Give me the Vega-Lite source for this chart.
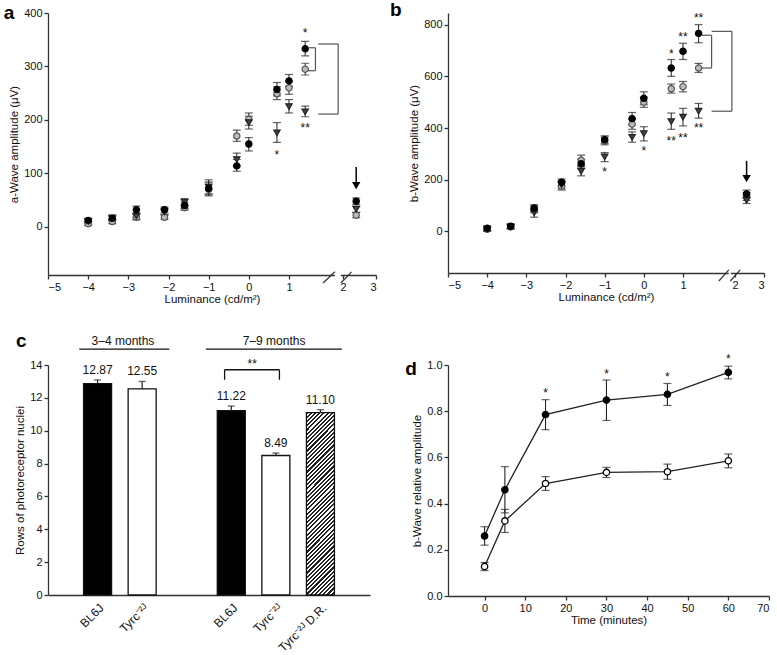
{
"$schema":"https://vega.github.io/schema/vega-lite/v6.json",
"padding":{"left":3,"top":0,"right":0,"bottom":0},
"config":{"font":"Liberation Sans","view":{"stroke":null},"axis":{"grid":false,"labelOverlap":false,"domainColor":"#333","tickColor":"#333","labelColor":"#111","titleColor":"#111","labelFontSize":11,"titleFontSize":11.5,"titleFontWeight":"normal","tickSize":4,"labelPadding":2,"domainWidth":1.3,"tickWidth":1.3,"titlePadding":4},"text":{"color":"#111"}},
"resolve":{"scale":{"fill":"independent","stroke":"independent","shape":"independent"}},
"datasets":{
"pa":[
{"lum":-4,"amp":6,"lo":2,"hi":10,"s":"O"},{"lum":-4,"amp":10,"lo":6,"hi":14,"s":"T"},{"lum":-4,"amp":12,"lo":8,"hi":16,"s":"F"},
{"lum":-3.4,"amp":10,"lo":6,"hi":14,"s":"O"},{"lum":-3.4,"amp":17,"lo":13,"hi":21,"s":"T"},{"lum":-3.4,"amp":16,"lo":12,"hi":20,"s":"F"},
{"lum":-2.8,"amp":18,"lo":13,"hi":23,"s":"O"},{"lum":-2.8,"amp":20,"lo":15,"hi":25,"s":"T"},{"lum":-2.8,"amp":32,"lo":25,"hi":39,"s":"F"},
{"lum":-2.1,"amp":18,"lo":14,"hi":22,"s":"O"},{"lum":-2.1,"amp":28,"lo":23,"hi":33,"s":"T"},{"lum":-2.1,"amp":32,"lo":26,"hi":37,"s":"F"},
{"lum":-1.6,"amp":36,"lo":31,"hi":41,"s":"O"},{"lum":-1.6,"amp":46,"lo":40,"hi":53,"s":"T"},{"lum":-1.6,"amp":40,"lo":34,"hi":46,"s":"F"},
{"lum":-1,"amp":70,"lo":58,"hi":82,"s":"O"},{"lum":-1,"amp":74,"lo":62,"hi":88,"s":"T"},{"lum":-1,"amp":72,"lo":60,"hi":84,"s":"F"},
{"lum":-0.3,"amp":170,"lo":160,"hi":181,"s":"O"},{"lum":-0.3,"amp":126,"lo":114,"hi":138,"s":"T"},{"lum":-0.3,"amp":114,"lo":104,"hi":126,"s":"F"},
{"lum":0,"amp":201,"lo":190,"hi":213,"s":"O"},{"lum":0,"amp":195,"lo":183,"hi":207,"s":"T"},{"lum":0,"amp":155,"lo":142,"hi":167,"s":"F"},
{"lum":0.7,"amp":249,"lo":238,"hi":262,"s":"O"},{"lum":0.7,"amp":176,"lo":158,"hi":195,"s":"T"},{"lum":0.7,"amp":257,"lo":245,"hi":270,"s":"F"},
{"lum":1,"amp":260,"lo":248,"hi":272,"s":"O"},{"lum":1,"amp":225,"lo":213,"hi":238,"s":"T"},{"lum":1,"amp":273,"lo":263,"hi":285,"s":"F"},
{"lum":1.3,"amp":295,"lo":284,"hi":306,"s":"O"},{"lum":1.3,"amp":215,"lo":206,"hi":226,"s":"T"},{"lum":1.3,"amp":333,"lo":320,"hi":347,"s":"F"},
{"lum":2.4,"amp":22,"lo":17,"hi":27,"s":"O"},{"lum":2.4,"amp":33,"lo":27,"hi":39,"s":"T"},{"lum":2.4,"amp":48,"lo":42,"hi":54,"s":"F"}
],
"pb":[
{"lum":-4,"amp":8,"lo":0,"hi":16,"s":"O"},{"lum":-4,"amp":10,"lo":2,"hi":18,"s":"T"},{"lum":-4,"amp":12,"lo":4,"hi":20,"s":"F"},
{"lum":-3.4,"amp":18,"lo":10,"hi":26,"s":"O"},{"lum":-3.4,"amp":18,"lo":10,"hi":26,"s":"T"},{"lum":-3.4,"amp":20,"lo":12,"hi":28,"s":"F"},
{"lum":-2.8,"amp":85,"lo":72,"hi":98,"s":"O"},{"lum":-2.8,"amp":72,"lo":55,"hi":90,"s":"T"},{"lum":-2.8,"amp":90,"lo":77,"hi":103,"s":"F"},
{"lum":-2.1,"amp":175,"lo":160,"hi":190,"s":"O"},{"lum":-2.1,"amp":180,"lo":165,"hi":195,"s":"T"},{"lum":-2.1,"amp":190,"lo":177,"hi":203,"s":"F"},
{"lum":-1.6,"amp":275,"lo":255,"hi":295,"s":"O"},{"lum":-1.6,"amp":232,"lo":215,"hi":250,"s":"T"},{"lum":-1.6,"amp":262,"lo":245,"hi":280,"s":"F"},
{"lum":-1,"amp":350,"lo":335,"hi":365,"s":"O"},{"lum":-1,"amp":288,"lo":270,"hi":305,"s":"T"},{"lum":-1,"amp":355,"lo":340,"hi":370,"s":"F"},
{"lum":-0.3,"amp":415,"lo":395,"hi":435,"s":"O"},{"lum":-0.3,"amp":364,"lo":345,"hi":385,"s":"T"},{"lum":-0.3,"amp":436,"lo":412,"hi":460,"s":"F"},
{"lum":0,"amp":500,"lo":480,"hi":520,"s":"O"},{"lum":0,"amp":378,"lo":350,"hi":405,"s":"T"},{"lum":0,"amp":515,"lo":490,"hi":540,"s":"F"},
{"lum":0.7,"amp":552,"lo":535,"hi":570,"s":"O"},{"lum":0.7,"amp":425,"lo":395,"hi":458,"s":"T"},{"lum":0.7,"amp":632,"lo":600,"hi":665,"s":"F"},
{"lum":1,"amp":560,"lo":540,"hi":580,"s":"O"},{"lum":1,"amp":442,"lo":408,"hi":476,"s":"T"},{"lum":1,"amp":697,"lo":665,"hi":728,"s":"F"},
{"lum":1.3,"amp":632,"lo":615,"hi":650,"s":"O"},{"lum":1.3,"amp":465,"lo":438,"hi":495,"s":"T"},{"lum":1.3,"amp":766,"lo":730,"hi":800,"s":"F"},
{"lum":2.4,"amp":135,"lo":120,"hi":150,"s":"O"},{"lum":2.4,"amp":120,"lo":108,"hi":132,"s":"T"},{"lum":2.4,"amp":145,"lo":130,"hi":160,"s":"F"}
],
"sa":[{"lum":0.7,"amp":140,"lab":"*"},{"lum":1.3,"amp":369,"lab":"*"},{"lum":1.3,"amp":190,"lab":"**"}],
"sb":[{"lum":-1,"amp":243,"lab":"*"},{"lum":0,"amp":323,"lab":"*"},{"lum":0.7,"amp":697,"lab":"*"},{"lum":0.7,"amp":361,"lab":"**"},{"lum":1,"amp":374,"lab":"**"},{"lum":1,"amp":764,"lab":"**"},{"lum":1.3,"amp":836,"lab":"**"},{"lum":1.3,"amp":413,"lab":"**"}],
"bra":[{"lum":1.35,"lum2":1.49,"amp":335,"amp2":335},{"lum":1.49,"lum2":1.49,"amp":335,"amp2":292},{"lum":1.35,"lum2":1.49,"amp":292,"amp2":292},{"lum":1.54,"lum2":1.91,"amp":342,"amp2":342},{"lum":1.91,"lum2":1.91,"amp":342,"amp2":211},{"lum":1.54,"lum2":1.91,"amp":211,"amp2":211}],
"brb":[{"lum":1.36,"lum2":1.55,"amp":759,"amp2":759},{"lum":1.55,"lum2":1.55,"amp":759,"amp2":632},{"lum":1.36,"lum2":1.55,"amp":632,"amp2":632},{"lum":1.55,"lum2":1.94,"amp":774,"amp2":774},{"lum":1.94,"lum2":1.94,"amp":774,"amp2":465},{"lum":1.55,"lum2":1.94,"amp":465,"amp2":465}],
"ara":[{"lum":2.4,"amp":112,"amp2":82,"hy":77}],
"arb":[{"lum":2.4,"amp":273,"amp2":215,"hy":204}],
"gapa":[{"lum":1.85,"lum2":1.96,"amp":-90}],
"sla":[{"lum":1.63,"lum2":1.85,"amp":-105,"amp2":-84},{"lum":1.96,"lum2":2.26,"amp":-105,"amp2":-84}],
"gapb":[{"lum":1.88,"lum2":1.92,"amp":-161}],
"slb":[{"lum":1.69,"lum2":1.88,"amp":-192,"amp2":-149},{"lum":1.91,"lum2":2.18,"amp":-192,"amp2":-149}],
"pc":[{"pos":1,"n":12.87,"hi":13.09,"g":"B","lab":"12.87"},{"pos":2,"n":12.55,"hi":13.0,"g":"T","lab":"12.55"},{"pos":4,"n":11.22,"hi":11.5,"g":"B","lab":"11.22"},{"pos":5,"n":8.49,"hi":8.64,"g":"T","lab":"8.49"},{"pos":6,"n":11.10,"hi":11.28,"g":"D","lab":"11.10"}],
"hc":[{"pos":0.59,"pos2":2.61,"n":14.97},{"pos":3.43,"pos2":6.48,"n":14.97}],
"hct":[{"pos":1.57,"n":15.48,"lab":"3–4 months"},{"pos":4.96,"n":15.48,"lab":"7–9 months"}],
"brc":[{"pos":3.85,"pos2":3.85,"n":13.1,"n2":13.71},{"pos":3.85,"pos2":5.08,"n":13.71,"n2":13.71},{"pos":5.08,"pos2":5.08,"n":13.71,"n2":13.1}],
"pd":[
{"time":0,"v":0.26,"lo":0.22,"hi":0.30,"s":"F"},{"time":5,"v":0.46,"lo":0.36,"hi":0.56,"s":"F"},{"time":15,"v":0.785,"lo":0.72,"hi":0.85,"s":"F"},{"time":30,"v":0.848,"lo":0.76,"hi":0.935,"s":"F"},{"time":45,"v":0.873,"lo":0.825,"hi":0.92,"s":"F"},{"time":60,"v":0.968,"lo":0.94,"hi":0.995,"s":"F"},
{"time":0,"v":0.128,"lo":0.11,"hi":0.145,"s":"O"},{"time":5,"v":0.325,"lo":0.275,"hi":0.375,"s":"O"},{"time":15,"v":0.487,"lo":0.457,"hi":0.517,"s":"O"},{"time":30,"v":0.535,"lo":0.513,"hi":0.557,"s":"O"},{"time":45,"v":0.538,"lo":0.505,"hi":0.571,"s":"O"},{"time":60,"v":0.585,"lo":0.555,"hi":0.615,"s":"O"}
],
"sd":[{"time":15,"v":0.892,"lab":"*"},{"time":30,"v":0.974,"lab":"*"},{"time":45,"v":0.961,"lab":"*"},{"time":60,"v":1.039,"lab":"*"}]
},
"columns":2,
"align":"each",
"spacing":{"row":27,"column":13},
"concat":[
{"width":328,"height":262,"layer":[
 {"data":{"name":"gapa"},"mark":{"type":"rule","color":"white","strokeWidth":4},"encoding":{"x":{"field":"lum","type":"quantitative","scale":{"domain":[-5,1,2,3],"range":[0,241,295,328],"nice":false,"zero":false},"axis":{"values":[-5,-4,-3,-2,-1,0,1,2,3],"tickCount":30,"format":"d","titlePadding":1,"labelOverlap":false},"title":"Luminance (cd/m²)"},"x2":{"field":"lum2"},"y":{"field":"amp","type":"quantitative","scale":{"domain":[-90,400],"nice":false,"zero":false},"axis":{"values":[0,100,200,300,400],"tickCount":30,"format":"d","labelOverlap":false},"title":"a-Wave amplitude (μV)"}}},
 {"data":{"name":"sla"},"mark":{"type":"rule","color":"#333","strokeWidth":1.2},"encoding":{"x":{"field":"lum","type":"quantitative","title":"Luminance (cd/m²)"},"x2":{"field":"lum2"},"y":{"field":"amp","type":"quantitative","title":"a-Wave amplitude (μV)"},"y2":{"field":"amp2"}}},
 {"data":{"name":"pa"},"mark":{"type":"rule","color":"#222","strokeWidth":1},"encoding":{"x":{"field":"lum","type":"quantitative","title":"Luminance (cd/m²)"},"y":{"field":"lo","type":"quantitative","title":"a-Wave amplitude (μV)"},"y2":{"field":"hi"}}},
 {"data":{"name":"pa"},"mark":{"type":"tick","orient":"horizontal","color":"#222","size":8,"thickness":1.2},"encoding":{"x":{"field":"lum","type":"quantitative","title":"Luminance (cd/m²)"},"y":{"field":"lo","type":"quantitative","title":"a-Wave amplitude (μV)"}}},
 {"data":{"name":"pa"},"mark":{"type":"tick","orient":"horizontal","color":"#222","size":8,"thickness":1.2},"encoding":{"x":{"field":"lum","type":"quantitative","title":"Luminance (cd/m²)"},"y":{"field":"hi","type":"quantitative","title":"a-Wave amplitude (μV)"}}},
 {"data":{"name":"pa"},"mark":{"type":"point","filled":true,"size":40,"strokeWidth":1.2,"opacity":1},"encoding":{"x":{"field":"lum","type":"quantitative","title":"Luminance (cd/m²)"},"y":{"field":"amp","type":"quantitative","title":"a-Wave amplitude (μV)"},"shape":{"field":"s","type":"nominal","scale":{"domain":["F","O","T"],"range":["circle","circle","triangle-down"]},"legend":null},"fill":{"field":"s","type":"nominal","scale":{"domain":["F","O","T"],"range":["#000","#bbb","#444"]},"legend":null},"stroke":{"field":"s","type":"nominal","scale":{"domain":["F","O","T"],"range":["#000","#555","#222"]},"legend":null}}},
 {"data":{"name":"sa"},"mark":{"type":"text","fontSize":12,"baseline":"middle","dy":3},"encoding":{"x":{"field":"lum","type":"quantitative","title":"Luminance (cd/m²)"},"y":{"field":"amp","type":"quantitative","title":"a-Wave amplitude (μV)"},"text":{"field":"lab"}}},
 {"data":{"name":"bra"},"mark":{"type":"rule","color":"#555","strokeWidth":1.2},"encoding":{"x":{"field":"lum","type":"quantitative","title":"Luminance (cd/m²)"},"x2":{"field":"lum2"},"y":{"field":"amp","type":"quantitative","title":"a-Wave amplitude (μV)"},"y2":{"field":"amp2"}}},
 {"data":{"name":"ara"},"mark":{"type":"rule","color":"#000","strokeWidth":1.5},"encoding":{"x":{"field":"lum","type":"quantitative","title":"Luminance (cd/m²)"},"y":{"field":"amp","type":"quantitative","title":"a-Wave amplitude (μV)"},"y2":{"field":"amp2"}}},
 {"data":{"name":"ara"},"mark":{"type":"point","shape":"triangle-down","filled":true,"color":"#000","size":70,"opacity":1},"encoding":{"x":{"field":"lum","type":"quantitative","title":"Luminance (cd/m²)"},"y":{"field":"hy","type":"quantitative","title":"a-Wave amplitude (μV)"}}},
 {"data":{"values":[{"lum":-6.1,"amp":400,"lab":"a"}]},"mark":{"type":"text","fontSize":19,"fontWeight":"bold","align":"left","baseline":"middle","color":"#000"},"encoding":{"x":{"field":"lum","type":"quantitative","title":"Luminance (cd/m²)"},"y":{"field":"amp","type":"quantitative","title":"a-Wave amplitude (μV)"},"text":{"field":"lab"}}}
]},
{"width":316,"height":260,"layer":[
 {"data":{"name":"gapb"},"mark":{"type":"rule","color":"white","strokeWidth":4},"encoding":{"x":{"field":"lum","type":"quantitative","scale":{"domain":[-5,1,2,3],"range":[0,235,287,316],"nice":false,"zero":false},"axis":{"values":[-5,-4,-3,-2,-1,0,1,2,3],"tickCount":30,"format":"d","titlePadding":1,"labelOverlap":false},"title":"Luminance (cd/m²)"},"x2":{"field":"lum2"},"y":{"field":"amp","type":"quantitative","scale":{"domain":[-161,845],"nice":false,"zero":false},"axis":{"values":[0,200,400,600,800],"tickCount":30,"format":"d","labelOverlap":false},"title":"b-Wave amplitude (μV)"}}},
 {"data":{"name":"slb"},"mark":{"type":"rule","color":"#333","strokeWidth":1.2},"encoding":{"x":{"field":"lum","type":"quantitative","title":"Luminance (cd/m²)"},"x2":{"field":"lum2"},"y":{"field":"amp","type":"quantitative","title":"b-Wave amplitude (μV)"},"y2":{"field":"amp2"}}},
 {"data":{"name":"pb"},"mark":{"type":"rule","color":"#222","strokeWidth":1},"encoding":{"x":{"field":"lum","type":"quantitative","title":"Luminance (cd/m²)"},"y":{"field":"lo","type":"quantitative","title":"b-Wave amplitude (μV)"},"y2":{"field":"hi"}}},
 {"data":{"name":"pb"},"mark":{"type":"tick","orient":"horizontal","color":"#222","size":8,"thickness":1.2},"encoding":{"x":{"field":"lum","type":"quantitative","title":"Luminance (cd/m²)"},"y":{"field":"lo","type":"quantitative","title":"b-Wave amplitude (μV)"}}},
 {"data":{"name":"pb"},"mark":{"type":"tick","orient":"horizontal","color":"#222","size":8,"thickness":1.2},"encoding":{"x":{"field":"lum","type":"quantitative","title":"Luminance (cd/m²)"},"y":{"field":"hi","type":"quantitative","title":"b-Wave amplitude (μV)"}}},
 {"data":{"name":"pb"},"mark":{"type":"point","filled":true,"size":40,"strokeWidth":1.2,"opacity":1},"encoding":{"x":{"field":"lum","type":"quantitative","title":"Luminance (cd/m²)"},"y":{"field":"amp","type":"quantitative","title":"b-Wave amplitude (μV)"},"shape":{"field":"s","type":"nominal","scale":{"domain":["F","O","T"],"range":["circle","circle","triangle-down"]},"legend":null},"fill":{"field":"s","type":"nominal","scale":{"domain":["F","O","T"],"range":["#000","#bbb","#444"]},"legend":null},"stroke":{"field":"s","type":"nominal","scale":{"domain":["F","O","T"],"range":["#000","#555","#222"]},"legend":null}}},
 {"data":{"name":"sb"},"mark":{"type":"text","fontSize":12,"baseline":"middle","dy":3},"encoding":{"x":{"field":"lum","type":"quantitative","title":"Luminance (cd/m²)"},"y":{"field":"amp","type":"quantitative","title":"b-Wave amplitude (μV)"},"text":{"field":"lab"}}},
 {"data":{"name":"brb"},"mark":{"type":"rule","color":"#555","strokeWidth":1.2},"encoding":{"x":{"field":"lum","type":"quantitative","title":"Luminance (cd/m²)"},"x2":{"field":"lum2"},"y":{"field":"amp","type":"quantitative","title":"b-Wave amplitude (μV)"},"y2":{"field":"amp2"}}},
 {"data":{"name":"arb"},"mark":{"type":"rule","color":"#000","strokeWidth":1.5},"encoding":{"x":{"field":"lum","type":"quantitative","title":"Luminance (cd/m²)"},"y":{"field":"amp","type":"quantitative","title":"b-Wave amplitude (μV)"},"y2":{"field":"amp2"}}},
 {"data":{"name":"arb"},"mark":{"type":"point","shape":"triangle-down","filled":true,"color":"#000","size":70,"opacity":1},"encoding":{"x":{"field":"lum","type":"quantitative","title":"Luminance (cd/m²)"},"y":{"field":"hy","type":"quantitative","title":"b-Wave amplitude (μV)"}}},
 {"data":{"values":[{"lum":-6.48,"amp":857,"lab":"b"}]},"mark":{"type":"text","fontSize":19,"fontWeight":"bold","align":"left","baseline":"middle","color":"#000"},"encoding":{"x":{"field":"lum","type":"quantitative","title":"Luminance (cd/m²)"},"y":{"field":"amp","type":"quantitative","title":"b-Wave amplitude (μV)"},"text":{"field":"lab"}}}
]},
{"width":322,"height":230,"layer":[
 {"data":{"name":"pc"},"transform":[{"filter":"datum.g != 'D'"}],"mark":{"type":"bar","orient":"vertical","size":28,"stroke":"#111","strokeWidth":1.3},"encoding":{"x":{"field":"pos","type":"quantitative","scale":{"domain":[0,7],"nice":false,"zero":false},"axis":{"values":[1,2,4,5,6],"tickCount":30,"ticks":false,"labelAngle":-45,"labelPadding":7,"labelFontSize":12,"labelOverlap":false,"labelExpr":"datum.value == 1 || datum.value == 4 ? 'BL6J' : (datum.value == 6 ? 'Tyrc⁻²ᴶ D.R.' : 'Tyrc⁻²ᴶ')"},"title":null},"y":{"field":"n","type":"quantitative","scale":{"domain":[0,14],"nice":false},"axis":{"values":[0,2,4,6,8,10,12,14],"tickCount":30,"format":"d","labelOverlap":false},"title":"Rows of photoreceptor nuclei"},"fill":{"field":"g","type":"nominal","scale":{"domain":["B","T"],"range":["#000","#fff"]},"legend":null}}},
 {"data":{"name":"pc"},"transform":[{"filter":"datum.g == 'D'"}],"mark":{"type":"bar","orient":"vertical","size":28,"stroke":"#111","strokeWidth":1.3,"fill":{"gradient":"linear","x1":0,"y1":0,"x2":0.1734,"y2":1.127,"stops":[
{"offset":0,"color":"#222"},{"offset":0.01,"color":"#222"},{"offset":0.01,"color":"#fff"},{"offset":0.02,"color":"#fff"},
{"offset":0.02,"color":"#222"},{"offset":0.03,"color":"#222"},{"offset":0.03,"color":"#fff"},{"offset":0.04,"color":"#fff"},
{"offset":0.04,"color":"#222"},{"offset":0.05,"color":"#222"},{"offset":0.05,"color":"#fff"},{"offset":0.06,"color":"#fff"},
{"offset":0.06,"color":"#222"},{"offset":0.07,"color":"#222"},{"offset":0.07,"color":"#fff"},{"offset":0.08,"color":"#fff"},
{"offset":0.08,"color":"#222"},{"offset":0.09,"color":"#222"},{"offset":0.09,"color":"#fff"},{"offset":0.10,"color":"#fff"},
{"offset":0.10,"color":"#222"},{"offset":0.11,"color":"#222"},{"offset":0.11,"color":"#fff"},{"offset":0.12,"color":"#fff"},
{"offset":0.12,"color":"#222"},{"offset":0.13,"color":"#222"},{"offset":0.13,"color":"#fff"},{"offset":0.14,"color":"#fff"},
{"offset":0.14,"color":"#222"},{"offset":0.15,"color":"#222"},{"offset":0.15,"color":"#fff"},{"offset":0.16,"color":"#fff"},
{"offset":0.16,"color":"#222"},{"offset":0.17,"color":"#222"},{"offset":0.17,"color":"#fff"},{"offset":0.18,"color":"#fff"},
{"offset":0.18,"color":"#222"},{"offset":0.19,"color":"#222"},{"offset":0.19,"color":"#fff"},{"offset":0.20,"color":"#fff"},
{"offset":0.20,"color":"#222"},{"offset":0.21,"color":"#222"},{"offset":0.21,"color":"#fff"},{"offset":0.22,"color":"#fff"},
{"offset":0.22,"color":"#222"},{"offset":0.23,"color":"#222"},{"offset":0.23,"color":"#fff"},{"offset":0.24,"color":"#fff"},
{"offset":0.24,"color":"#222"},{"offset":0.25,"color":"#222"},{"offset":0.25,"color":"#fff"},{"offset":0.26,"color":"#fff"},
{"offset":0.26,"color":"#222"},{"offset":0.27,"color":"#222"},{"offset":0.27,"color":"#fff"},{"offset":0.28,"color":"#fff"},
{"offset":0.28,"color":"#222"},{"offset":0.29,"color":"#222"},{"offset":0.29,"color":"#fff"},{"offset":0.30,"color":"#fff"},
{"offset":0.30,"color":"#222"},{"offset":0.31,"color":"#222"},{"offset":0.31,"color":"#fff"},{"offset":0.32,"color":"#fff"},
{"offset":0.32,"color":"#222"},{"offset":0.33,"color":"#222"},{"offset":0.33,"color":"#fff"},{"offset":0.34,"color":"#fff"},
{"offset":0.34,"color":"#222"},{"offset":0.35,"color":"#222"},{"offset":0.35,"color":"#fff"},{"offset":0.36,"color":"#fff"},
{"offset":0.36,"color":"#222"},{"offset":0.37,"color":"#222"},{"offset":0.37,"color":"#fff"},{"offset":0.38,"color":"#fff"},
{"offset":0.38,"color":"#222"},{"offset":0.39,"color":"#222"},{"offset":0.39,"color":"#fff"},{"offset":0.40,"color":"#fff"},
{"offset":0.40,"color":"#222"},{"offset":0.41,"color":"#222"},{"offset":0.41,"color":"#fff"},{"offset":0.42,"color":"#fff"},
{"offset":0.42,"color":"#222"},{"offset":0.43,"color":"#222"},{"offset":0.43,"color":"#fff"},{"offset":0.44,"color":"#fff"},
{"offset":0.44,"color":"#222"},{"offset":0.45,"color":"#222"},{"offset":0.45,"color":"#fff"},{"offset":0.46,"color":"#fff"},
{"offset":0.46,"color":"#222"},{"offset":0.47,"color":"#222"},{"offset":0.47,"color":"#fff"},{"offset":0.48,"color":"#fff"},
{"offset":0.48,"color":"#222"},{"offset":0.49,"color":"#222"},{"offset":0.49,"color":"#fff"},{"offset":0.50,"color":"#fff"},
{"offset":0.50,"color":"#222"},{"offset":0.51,"color":"#222"},{"offset":0.51,"color":"#fff"},{"offset":0.52,"color":"#fff"},
{"offset":0.52,"color":"#222"},{"offset":0.53,"color":"#222"},{"offset":0.53,"color":"#fff"},{"offset":0.54,"color":"#fff"},
{"offset":0.54,"color":"#222"},{"offset":0.55,"color":"#222"},{"offset":0.55,"color":"#fff"},{"offset":0.56,"color":"#fff"},
{"offset":0.56,"color":"#222"},{"offset":0.57,"color":"#222"},{"offset":0.57,"color":"#fff"},{"offset":0.58,"color":"#fff"},
{"offset":0.58,"color":"#222"},{"offset":0.59,"color":"#222"},{"offset":0.59,"color":"#fff"},{"offset":0.60,"color":"#fff"},
{"offset":0.60,"color":"#222"},{"offset":0.61,"color":"#222"},{"offset":0.61,"color":"#fff"},{"offset":0.62,"color":"#fff"},
{"offset":0.62,"color":"#222"},{"offset":0.63,"color":"#222"},{"offset":0.63,"color":"#fff"},{"offset":0.64,"color":"#fff"},
{"offset":0.64,"color":"#222"},{"offset":0.65,"color":"#222"},{"offset":0.65,"color":"#fff"},{"offset":0.66,"color":"#fff"},
{"offset":0.66,"color":"#222"},{"offset":0.67,"color":"#222"},{"offset":0.67,"color":"#fff"},{"offset":0.68,"color":"#fff"},
{"offset":0.68,"color":"#222"},{"offset":0.69,"color":"#222"},{"offset":0.69,"color":"#fff"},{"offset":0.70,"color":"#fff"},
{"offset":0.70,"color":"#222"},{"offset":0.71,"color":"#222"},{"offset":0.71,"color":"#fff"},{"offset":0.72,"color":"#fff"},
{"offset":0.72,"color":"#222"},{"offset":0.73,"color":"#222"},{"offset":0.73,"color":"#fff"},{"offset":0.74,"color":"#fff"},
{"offset":0.74,"color":"#222"},{"offset":0.75,"color":"#222"},{"offset":0.75,"color":"#fff"},{"offset":0.76,"color":"#fff"},
{"offset":0.76,"color":"#222"},{"offset":0.77,"color":"#222"},{"offset":0.77,"color":"#fff"},{"offset":0.78,"color":"#fff"},
{"offset":0.78,"color":"#222"},{"offset":0.79,"color":"#222"},{"offset":0.79,"color":"#fff"},{"offset":0.80,"color":"#fff"},
{"offset":0.80,"color":"#222"},{"offset":0.81,"color":"#222"},{"offset":0.81,"color":"#fff"},{"offset":0.82,"color":"#fff"},
{"offset":0.82,"color":"#222"},{"offset":0.83,"color":"#222"},{"offset":0.83,"color":"#fff"},{"offset":0.84,"color":"#fff"},
{"offset":0.84,"color":"#222"},{"offset":0.85,"color":"#222"},{"offset":0.85,"color":"#fff"},{"offset":0.86,"color":"#fff"},
{"offset":0.86,"color":"#222"},{"offset":0.87,"color":"#222"},{"offset":0.87,"color":"#fff"},{"offset":0.88,"color":"#fff"},
{"offset":0.88,"color":"#222"},{"offset":0.89,"color":"#222"},{"offset":0.89,"color":"#fff"},{"offset":0.90,"color":"#fff"},
{"offset":0.90,"color":"#222"},{"offset":0.91,"color":"#222"},{"offset":0.91,"color":"#fff"},{"offset":0.92,"color":"#fff"},
{"offset":0.92,"color":"#222"},{"offset":0.93,"color":"#222"},{"offset":0.93,"color":"#fff"},{"offset":0.94,"color":"#fff"},
{"offset":0.94,"color":"#222"},{"offset":0.95,"color":"#222"},{"offset":0.95,"color":"#fff"},{"offset":0.96,"color":"#fff"},
{"offset":0.96,"color":"#222"},{"offset":0.97,"color":"#222"},{"offset":0.97,"color":"#fff"},{"offset":0.98,"color":"#fff"},
{"offset":0.98,"color":"#222"},{"offset":0.99,"color":"#222"},{"offset":0.99,"color":"#fff"},{"offset":1,"color":"#fff"}
]}},"encoding":{"x":{"field":"pos","type":"quantitative","title":null},"y":{"field":"n","type":"quantitative","title":"Rows of photoreceptor nuclei"}}},
 {"data":{"name":"pc"},"mark":{"type":"rule","color":"#222","strokeWidth":1.2},"encoding":{"x":{"field":"pos","type":"quantitative","title":null},"y":{"field":"n","type":"quantitative","title":"Rows of photoreceptor nuclei"},"y2":{"field":"hi"}}},
 {"data":{"name":"pc"},"mark":{"type":"tick","orient":"horizontal","color":"#222","size":7,"thickness":1.3},"encoding":{"x":{"field":"pos","type":"quantitative","title":null},"y":{"field":"hi","type":"quantitative","title":"Rows of photoreceptor nuclei"}}},
 {"data":{"name":"pc"},"mark":{"type":"text","fontSize":12,"baseline":"bottom","dy":-3},"encoding":{"x":{"field":"pos","type":"quantitative","title":null},"y":{"field":"hi","type":"quantitative","title":"Rows of photoreceptor nuclei"},"text":{"field":"lab"}}},
 {"data":{"name":"hc"},"mark":{"type":"rule","color":"#111","strokeWidth":1.3},"encoding":{"x":{"field":"pos","type":"quantitative","title":null},"x2":{"field":"pos2"},"y":{"field":"n","type":"quantitative","title":"Rows of photoreceptor nuclei"}}},
 {"data":{"name":"hct"},"mark":{"type":"text","fontSize":12,"baseline":"middle"},"encoding":{"x":{"field":"pos","type":"quantitative","title":null},"y":{"field":"n","type":"quantitative","title":"Rows of photoreceptor nuclei"},"text":{"field":"lab"}}},
 {"data":{"name":"brc"},"mark":{"type":"rule","color":"#111","strokeWidth":1.3},"encoding":{"x":{"field":"pos","type":"quantitative","title":null},"x2":{"field":"pos2"},"y":{"field":"n","type":"quantitative","title":"Rows of photoreceptor nuclei"},"y2":{"field":"n2"}}},
 {"data":{"values":[{"pos":4.47,"n":14.26,"lab":"**"}]},"mark":{"type":"text","fontSize":12,"baseline":"middle","dy":3},"encoding":{"x":{"field":"pos","type":"quantitative","title":null},"y":{"field":"n","type":"quantitative","title":"Rows of photoreceptor nuclei"},"text":{"field":"lab"}}},
 {"data":{"values":[{"pos":-0.83,"n":15.46,"lab":"c"}]},"mark":{"type":"text","fontSize":19,"fontWeight":"bold","align":"left","baseline":"middle","color":"#000"},"encoding":{"x":{"field":"pos","type":"quantitative","title":null},"y":{"field":"n","type":"quantitative","title":"Rows of photoreceptor nuclei"},"text":{"field":"lab"}}}
]},
{"width":321,"height":231,"layer":[
 {"data":{"name":"pd"},"mark":{"type":"line","color":"#222","strokeWidth":1.3},"encoding":{"x":{"field":"time","type":"quantitative","scale":{"domain":[-9,70],"nice":false,"zero":false},"axis":{"values":[0,10,20,30,40,50,60,70],"tickCount":30,"format":"d","titlePadding":1,"labelOverlap":false},"title":"Time (minutes)"},"y":{"field":"v","type":"quantitative","scale":{"domain":[0,1],"nice":false},"axis":{"values":[0,0.2,0.4,0.6,0.8,1.0],"tickCount":30,"format":".1f","labelOverlap":false},"title":"b-Wave relative amplitude"},"detail":{"field":"s"}}},
 {"data":{"name":"pd"},"mark":{"type":"rule","color":"#222","strokeWidth":1.1},"encoding":{"x":{"field":"time","type":"quantitative","title":"Time (minutes)"},"y":{"field":"lo","type":"quantitative","title":"b-Wave relative amplitude"},"y2":{"field":"hi"}}},
 {"data":{"name":"pd"},"mark":{"type":"tick","orient":"horizontal","color":"#222","size":8,"thickness":1.2},"encoding":{"x":{"field":"time","type":"quantitative","title":"Time (minutes)"},"y":{"field":"lo","type":"quantitative","title":"b-Wave relative amplitude"}}},
 {"data":{"name":"pd"},"mark":{"type":"tick","orient":"horizontal","color":"#222","size":8,"thickness":1.2},"encoding":{"x":{"field":"time","type":"quantitative","title":"Time (minutes)"},"y":{"field":"hi","type":"quantitative","title":"b-Wave relative amplitude"}}},
 {"data":{"name":"pd"},"mark":{"type":"point","filled":true,"size":40,"stroke":"#000","strokeWidth":1.3,"opacity":1},"encoding":{"x":{"field":"time","type":"quantitative","title":"Time (minutes)"},"y":{"field":"v","type":"quantitative","title":"b-Wave relative amplitude"},"fill":{"field":"s","type":"nominal","scale":{"domain":["F","O"],"range":["#000","#fff"]},"legend":null}}},
 {"data":{"name":"sd"},"mark":{"type":"text","fontSize":12,"baseline":"middle","dy":3},"encoding":{"x":{"field":"time","type":"quantitative","title":"Time (minutes)"},"y":{"field":"v","type":"quantitative","title":"b-Wave relative amplitude"},"text":{"field":"lab"}}},
 {"data":{"values":[{"time":-19.5,"v":0.983,"lab":"d"}]},"mark":{"type":"text","fontSize":19,"fontWeight":"bold","align":"left","baseline":"middle","color":"#000"},"encoding":{"x":{"field":"time","type":"quantitative","title":"Time (minutes)"},"y":{"field":"v","type":"quantitative","title":"b-Wave relative amplitude"},"text":{"field":"lab"}}}
]}
]
}
